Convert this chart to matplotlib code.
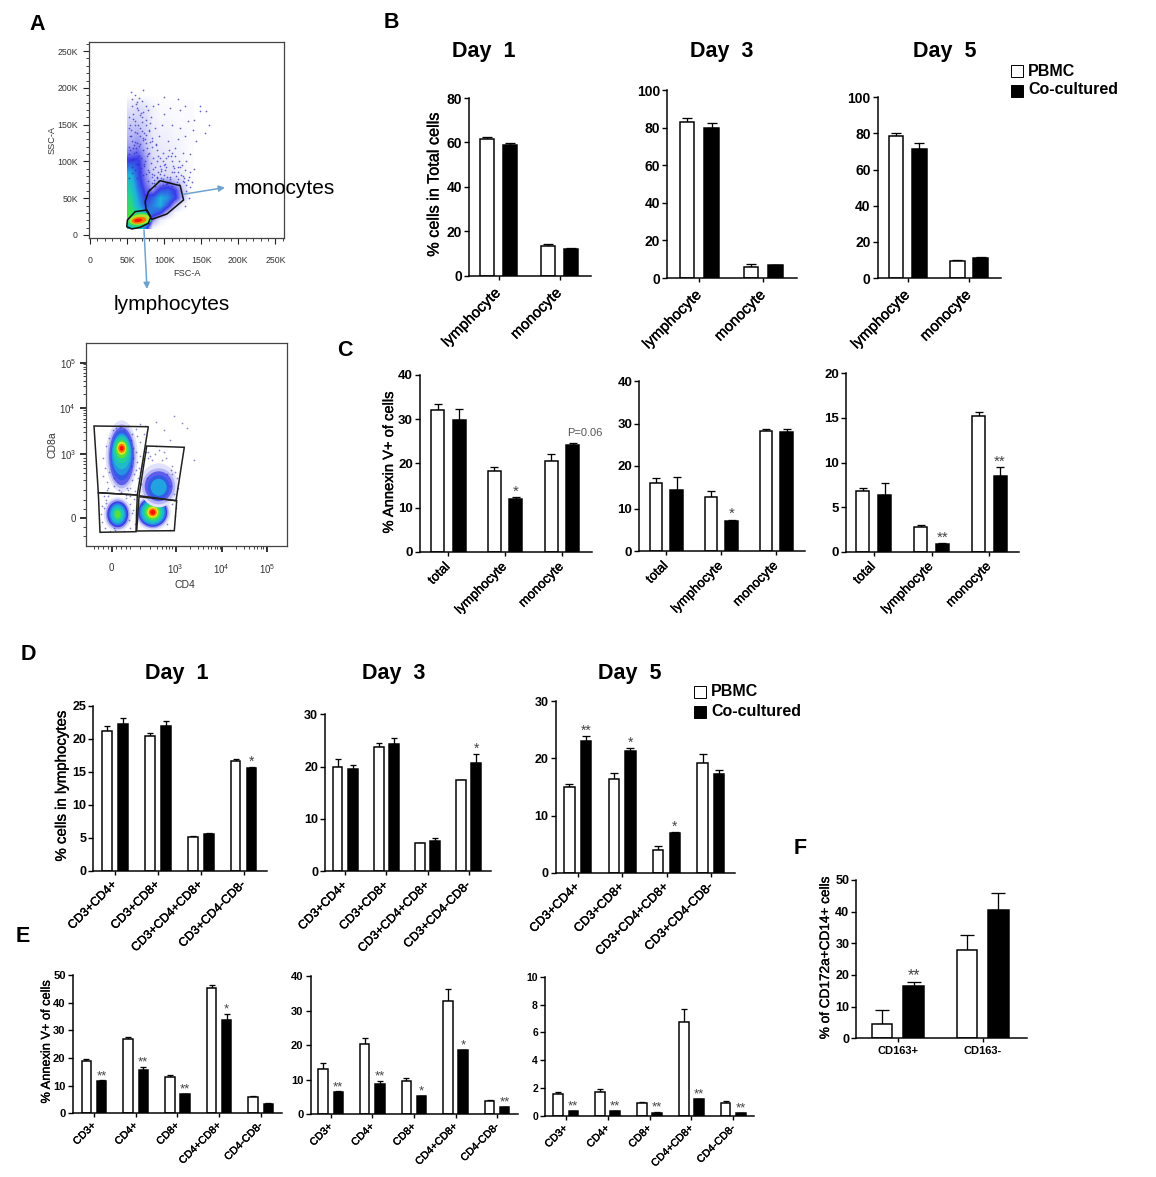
import numpy as np
import matplotlib
matplotlib.use('Agg')
import matplotlib.pyplot as plt
import matplotlib.patheffects as pe
from matplotlib.colors import LinearSegmentedColormap
from matplotlib.patches import Ellipse, Polygon, Rectangle

# === DATA ===
LYM_MONO = ['lymphocyte', 'monocyte']
TOT_LYM_MONO = ['total', 'lymphocyte', 'monocyte']
CD3_SUBSETS = ['CD3+CD4+', 'CD3+CD8+', 'CD3+CD4+CD8+', 'CD3+CD4-CD8-']
ANNEXIN_SUBSETS = ['CD3+', 'CD4+', 'CD8+', 'CD4+CD8+', 'CD4-CD8-']
CD163 = ['CD163+', 'CD163-']

# panel B
B1_PBMC = [61.5, 13.5]
B1_PBMC_ERR = [1.0, 1.0]
B1_CO = [59.0, 12.3]
B1_CO_ERR = [0.7, 0.4]
B3_PBMC = [83.0, 6.0]
B3_PBMC_ERR = [2.0, 1.5]
B3_CO = [80.0, 7.0]
B3_CO_ERR = [2.7, 0.1]
B5_PBMC = [78.5, 9.5]
B5_PBMC_ERR = [1.5, 0.5]
B5_CO = [71.5, 11.0]
B5_CO_ERR = [3.2, 0.5]

# panel C
C1_PBMC = [32.0, 18.2, 20.5]
C1_PBMC_ERR = [1.5, 0.9, 1.5]
C1_CO = [29.8, 12.0, 24.2]
C1_CO_ERR = [2.4, 0.3, 0.5]
C1_STARS = ['', '*', '']
C3_PBMC = [16.0, 12.7, 28.3]
C3_PBMC_ERR = [1.2, 1.5, 0.5]
C3_CO = [14.3, 7.1, 28.0]
C3_CO_ERR = [3.0, 0.3, 0.8]
C3_STARS = ['', '*', '']
C5_PBMC = [6.8, 2.8, 15.2]
C5_PBMC_ERR = [0.3, 0.2, 0.5]
C5_CO = [6.4, 0.9, 8.5]
C5_CO_ERR = [1.3, 0.1, 1.0]
C5_STARS = ['', '**', '**']

# panel D
D1_PBMC = [21.2, 20.4, 5.1, 16.7]
D1_PBMC_ERR = [0.7, 0.5, 0.2, 0.2]
D1_CO = [22.2, 21.9, 5.6, 15.6]
D1_CO_ERR = [1.0, 0.8, 0.1, 0.1]
D1_STARS = ['', '', '', '*']
D3_PBMC = [20.0, 23.8, 5.4, 17.4]
D3_PBMC_ERR = [1.4, 0.8, 0.1, 0.1]
D3_CO = [19.5, 24.3, 5.8, 20.6]
D3_CO_ERR = [0.9, 1.2, 0.5, 1.8]
D3_STARS = ['', '', '', '*']
D5_PBMC = [15.0, 16.4, 4.0, 19.2]
D5_PBMC_ERR = [0.5, 1.1, 0.6, 1.5]
D5_CO = [23.0, 21.3, 7.0, 17.2]
D5_CO_ERR = [0.9, 0.5, 0.1, 0.8]
D5_STARS = ['**', '*', '*', '']

# panel E
E1_PBMC = [19.0, 27.0, 13.0, 45.3, 6.0]
E1_PBMC_ERR = [0.8, 0.7, 0.7, 1.2, 0.4]
E1_CO = [11.5, 15.7, 7.0, 33.7, 3.5]
E1_CO_ERR = [0.4, 1.1, 0.1, 2.3, 0.2]
E1_STARS = ['**', '**', '**', '*', '']
E3_PBMC = [13.2, 20.2, 9.6, 32.8, 3.9]
E3_PBMC_ERR = [1.5, 2.0, 1.0, 3.4, 0.1]
E3_CO = [6.4, 8.8, 5.2, 18.6, 2.0]
E3_CO_ERR = [0.2, 0.8, 0.1, 0.1, 0.2]
E3_STARS = ['**', '**', '*', '*', '**']
E5_PBMC = [1.6, 1.7, 0.95, 6.75, 0.9]
E5_PBMC_ERR = [0.15, 0.25, 0.05, 0.9, 0.15]
E5_CO = [0.35, 0.35, 0.25, 1.2, 0.2]
E5_CO_ERR = [0.03, 0.03, 0.02, 0.03, 0.02]
E5_STARS = ['**', '**', '**', '**', '**']

# panel F
F_PBMC = [4.5, 28.0]
F_PBMC_ERR = [4.5, 4.5]
F_CO = [16.5, 40.5]
F_CO_ERR = [1.3, 5.5]
F_STARS = ['**', '']

# flow plot 1, FSC-A / SSC-A in thousands, density levels 0-9 read by eye
FSC_COLS = [45, 55, 65, 75, 85, 95, 105, 115, 125, 135]
SSC_ROWS = [190, 180, 170, 160, 150, 140, 130, 120, 110, 100, 90, 80, 70, 60, 50, 40, 30, 20, 10]
SCATTER_LEVELS = [
    [0, 0, 0, 0, 0, 0, 0, 0, 0, 0],
    [.3, .3, .4, .3, .1, .05, .05, .05, .05, .05],
    [.5, .5, .6, .5, .25, .1, .1, .05, .1, .1],
    [.7, .7, .7, .6, .25, .15, .15, .1, .05, .1],
    [.9, .9, .9, .7, .3, .2, .2, .15, .1, .1],
    [1, 1, 1.1, .8, .35, .25, .25, .15, .15, .1],
    [1.1, 1.1, 1.3, .9, .4, .3, .25, .2, .15, .05],
    [1.3, 1.3, 1.5, 1, .45, .35, .3, .25, .15, .05],
    [1.7, 1.7, 1.9, 1.2, .55, .4, .35, .25, .2, .05],
    [2.4, 2.4, 2.4, 1.4, .65, .5, .4, .3, .2, .05],
    [3.2, 3.2, 2.5, 1.4, .7, .5, .5, .4, .25, .1],
    [4, 4, 2.6, 1.5, .8, .7, .6, .5, .3, .1],
    [4.4, 4.4, 2.8, 1.7, 1, 1.4, 1.7, 1.2, .6, .05],
    [4.8, 4.8, 3.1, 2, 1.5, 2.6, 2.8, 2.2, 1, .05],
    [5.2, 5.2, 3.5, 2.2, 2.8, 3.8, 3.4, 2.4, 1, 0],
    [5.4, 5.4, 3.8, 2.6, 3.2, 3.8, 2.6, 1, .2, 0],
    [5.8, 5.8, 4.8, 3.4, 3, 2.4, .9, .1, 0, 0],
    [5.8, 6, 6, 5.5, 1.5, .3, .05, 0, 0, 0],
    [4, 4, 5, 3, .2, 0, 0, 0, 0, 0],
]
# hot spot: fsc, ssc, width, height, level
SCATTER_HOT = [(67, 21, 34, 19, 5.5), (67, 21, 28, 14, 6.6), (66, 20, 20, 9, 8), (65, 20, 11, 4.5, 9)]
SCATTER_DOTS_X = [55, 72, 60, 66, 62, 70, 85, 92, 100, 118, 128, 148, 156, 148, 140, 160, 155, 143, 139, 132,
                  122, 108, 100, 97, 110, 122, 128, 118, 105, 93, 87, 82, 78, 75, 70, 65, 58, 54, 60, 68,
                  75, 83, 90, 98, 107, 115, 125, 135, 130, 120, 110, 100, 90, 85, 78, 72, 64, 58, 140, 135,
                  128, 118, 110, 100, 92, 85, 132, 137, 127, 118, 108, 96, 86, 135, 130, 128, 133, 83, 79, 74,
                  57, 63, 69, 76, 81, 53, 56, 61, 67, 73, 79, 84, 89, 95, 103, 112, 52, 59, 66, 71,
                  77, 82, 88, 94, 101, 113, 124, 55, 62, 68, 74, 80, 86, 92, 98, 104, 116, 126, 54, 60,
                  65, 70, 76, 83, 89, 96, 102, 109, 53, 58, 63, 69, 73, 78, 84, 90, 107, 121, 52, 57,
                  56, 64, 71, 58, 67, 75, 53, 61, 70, 79, 55, 63, 72, 81, 59, 66, 74, 54, 62, 69,
                  77, 57, 65, 73, 80, 52, 60, 68, 76, 83, 56, 64, 71, 78, 86, 91, 96, 101, 105, 110,
                  115, 119, 123, 127, 93, 98, 103, 108, 113, 117, 87, 90, 94, 99, 104, 111, 120, 125, 129, 133]
SCATTER_DOTS_Y = [194, 197, 190, 186, 178, 182, 176, 178, 188, 185, 176, 176, 168, 168, 157, 150, 138, 128, 143, 155,
                  170, 172, 165, 150, 150, 146, 135, 130, 128, 135, 145, 160, 170, 150, 160, 170, 165, 150, 140, 135,
                  125, 120, 115, 112, 115, 118, 112, 110, 100, 100, 100, 95, 100, 105, 110, 115, 125, 118, 90, 85,
                  88, 85, 85, 82, 85, 90, 75, 72, 72, 76, 76, 77, 75, 65, 60, 40, 50, 70, 62, 55,
                  185, 172, 166, 176, 152, 160, 128, 155, 146, 138, 142, 132, 122, 104, 92, 94, 120, 112, 108, 132,
                  118, 98, 92, 94, 88, 91, 95, 143, 118, 124, 101, 112, 82, 107, 101, 79, 80, 80, 134, 127,
                  150, 141, 136, 128, 124, 87, 104, 108, 110, 103, 97, 91, 94, 88, 83, 78, 72, 93, 78, 84,
                  176, 181, 167, 158, 163, 156, 146, 149, 153, 143, 135, 139, 129, 127, 122, 121, 131, 116, 113, 105,
                  107, 102, 96, 96, 86, 101, 89, 86, 83, 79, 92, 77, 81, 74, 71, 74, 90, 97, 107, 112,
                  108, 92, 81, 77, 73, 76, 69, 79, 86, 72, 66, 79, 83, 68, 70, 67, 69, 73, 68, 79]
LYM_GATE_FSC = [49.5, 50.4, 60.8, 76.6, 82, 78.8, 67.6, 56.3]
LYM_GATE_SSC = [11.3, 20.4, 31.7, 34, 24.9, 15.9, 10.4, 8.2]
MONO_GATE_FSC = [74.3, 78.8, 94.6, 121.6, 126.1, 103.6, 83.4, 75.7]
MONO_GATE_SSC = [45.3, 58.9, 73.8, 67, 47.6, 28.5, 21.3, 34]

# flow plot 2, CD4 / CD8a on the display scale of the plot, 0 = zero tick
# blob: cd4, cd8, width, height, level
CD_BLOBS = [
    (10, 62, 32, 72, .5), (10, 62, 28, 64, 1.1), (10, 62, 25, 58, 1.9), (10, 63, 22, 50, 2.7), (10, 64, 20, 42, 3.4),
    (10, 66, 18, 34, 4.2), (10, 68, 15, 26, 5), (10, 69, 12, 18, 6), (10, 70, 9, 13, 7), (10, 70, 7, 9, 8), (10, 70, 4, 5, 9),
    (6, 4, 28, 34, .5), (6, 4, 24, 30, 1.3), (6, 4, 21, 26, 2.2), (6, 4, 17, 22, 3.2), (6, 4, 14, 18, 4),
    (6, 4, 10, 13, 5), (6, 4, 6, 8, 6),
    (41, 6, 36, 36, .5), (41, 6, 32, 32, 1.3), (41, 6, 29, 29, 2.2), (41, 6, 26, 26, 3.2), (41, 6, 23, 23, 4),
    (41, 6, 19, 19, 5), (41, 6, 15, 15, 6), (41, 6, 11, 11, 7), (41, 6, 8, 8, 8), (41, 6, 5, 5, 9),
    (47, 33, 38, 44, .5), (47, 32, 33, 36, 1.1), (47, 32, 28, 30, 1.9), (47, 31, 22, 24, 2.7), (47, 31, 16, 17, 3.6),
]
CD_DOTS_X = [-9, -6, -3, 1, 4, 8, 12, 16, 20, 24, 28, 33, 44, 52, 58, 62, 70, 75, 82, -9, -4, 21, 25, 28, 32, 36, 40, 47, 54,
             60, 63, 58, 52, 44, 36, 30, 24, 20, 18, 23, 28, 22, 16, -4, -8, -10, -7, 26, 29, 34, 66, 64, 60, 55,
             18, 14, 3, -2, -6, 20, 23, 18, 14, 9, 2, 58, 63, 64, 60, 28, 30, 21, 17, -11, -6, 2, 12, 18,
             -7, -5, 27, 25, 22, 19, 2, -3, 7, 15, 33, 38, 43, 50, 55, 31, 35, 65, 62, 59, 24, 21, 19, -8, -10, -5]
CD_DOTS_Y = [60, 72, 80, 88, 90, 91, 88, 92, 84, 89, 94, 92, 96, 88, 78, 102, 95, 90, 58, 42, 30, 70, 56, 76, 84, 66, 58, 68, 60,
             52, 46, 32, 66, 72, 60, 52, 48, 38, 30, 27, 62, 19, 28, 22, 10, -4, -10, 40, 34, 66, 30, 20, 14, -6,
             14, 23, -12, -13, 18, 5, -6, -10, 20, 26, 40, -12, 2, 10, 44, 46, 14, 8, -2, 4, 15, -10, -13, 22,
             50, 36, 50, 82, 44, 52, 32, 46, 28, 30, 70, 62, 64, 58, 44, 58, 40, 40, 24, 48, 66, 60, 78, 22, 12, 28]
TL_GATE = [(-17.7, 92.3), (36.6, 91.6), (25.6, 23.3), (-13.4, 25.6)]
TR_GATE = [(35, 72.3), (72.6, 71), (64.3, 17.6), (27.3, 22.6)]
BL_GATE = [(-13.4, 25.6), (25.6, 23.3), (24.3, -13.4), (-11.7, -14)]
BR_GATE = [(27.3, 21.6), (65, 17.6), (62.6, -12.4), (25, -12.7)]

# === SETTINGS ===
W, H = 1156, 1177
plt.rcParams['font.family'] = ['Liberation Sans', 'DejaVu Sans']
plt.rcParams['mathtext.fontset'] = 'custom'
plt.rcParams['mathtext.rm'] = 'Liberation Sans'

FLOW_CMAP = LinearSegmentedColormap.from_list('flow', [
    (0, '#ffffff'), (.1, '#c8c8f8'), (.25, '#3a3ae8'), (.42, '#1eb0e0'), (.55, '#20d0a0'),
    (.65, '#40e040'), (.78, '#e8e820'), (.88, '#ff8000'), (1, '#ff1000')])
SEMI = [pe.withStroke(linewidth=0.25, foreground='black')]
PX = 0.72  # points per pixel at dpi 100

fig = plt.figure(figsize=(W / 100, H / 100), dpi=100)


def px_axes(x0, x1, y_bottom, y_top):
    return fig.add_axes([x0 / W, 1 - y_bottom / H, (x1 - x0) / W, (y_bottom - y_top) / H])


def bar_panel(box, first, step, off, bw, labels, pbmc, pbmc_err, co, co_err, yticks,
              yfont, xfont, stars=None, star_size=11, xrot=45):
    x0, x1, y0, y1 = box
    ax = px_axes(x0, x1, y0, y1)
    ax.patch.set_alpha(0)
    pos = np.arange(len(labels))
    ax.set_xlim((x0 - first) / step, (x1 - first) / step)
    ax.set_ylim(0, yticks[-1])
    ax.bar(pos - off / step, pbmc, width=(bw - 1.5) / step, color='white', edgecolor='black', linewidth=1.5 * PX, zorder=2)
    ax.bar(pos + off / step, co, width=(bw - 1.5) / step, color='black', edgecolor='black', linewidth=1.5 * PX, zorder=2)
    for xs, v, e in ((pos - off / step, pbmc, pbmc_err), (pos + off / step, co, co_err)):
        ax.errorbar(xs, v, yerr=[np.zeros(len(v)), e], fmt='none', ecolor='black',
                    elinewidth=1.3 * PX, capsize=bw * 0.3 * PX, capthick=1.3 * PX, zorder=1, clip_on=False)
    for s in ('top', 'right'):
        ax.spines[s].set_visible(False)
    for s in ('left', 'bottom'):
        ax.spines[s].set_linewidth(1.5 * PX)
    ax.set_yticks(yticks)
    ax.set_yticklabels(yticks, fontsize=yfont, fontweight='bold')
    ax.tick_params(axis='y', length=5 * PX, width=1.4 * PX, pad=1.5)
    ax.set_xticks(pos)
    if xrot:
        ax.tick_params(axis='x', length=4 * PX, width=1.4 * PX, pad=0.9 * xfont - 2)
        ax.set_xticklabels(labels, fontsize=xfont, rotation=xrot, ha='right', va='center', rotation_mode='anchor')
        for t in ax.get_xticklabels():
            t.set_path_effects(SEMI)
    else:
        ax.tick_params(axis='x', length=4 * PX, width=1.4 * PX, pad=3)
        ax.set_xticklabels(labels, fontsize=xfont, fontweight='bold')
    if stars:
        for i, s in enumerate(stars):
            if s:
                ax.annotate(s, (pos[i] + off / step, co[i] + co_err[i]), xytext=(0, 1), textcoords='offset points',
                            ha='center', va='baseline', fontsize=star_size, color='#444444')
    return ax


def flow_frame(ax):
    for s in ax.spines.values():
        s.set_linewidth(0.9)
        s.set_color('#444444')


# === PANEL A, FLOW PLOTS ===
ax = px_axes(89, 284.3, 237.7, 42.3)
im = ax.imshow(np.array(SCATTER_LEVELS), cmap=FLOW_CMAP, vmin=0, vmax=9, aspect='auto', interpolation='bilinear',
               extent=(FSC_COLS[0] - 5, FSC_COLS[-1] + 5, SSC_ROWS[-1] - 5, SSC_ROWS[0] + 5), zorder=1)
im.set_clip_path(Rectangle((50, 8), 95, 190, transform=ax.transData))
ax.set_xlim(-1.4, 262)
ax.set_ylim(-3.7, 262)
ax.scatter(SCATTER_DOTS_X, SCATTER_DOTS_Y, s=1.5, c='#3030c0', alpha=0.75, linewidths=0, zorder=2)
for fx, fy, fw, fh, lev in SCATTER_HOT:
    ax.add_patch(Ellipse((fx, fy), fw, fh, angle=8, color=FLOW_CMAP(lev / 9), lw=0, zorder=3))
ax.add_patch(Polygon(np.column_stack([LYM_GATE_FSC, LYM_GATE_SSC]), fill=False, ec='#111111', lw=1.1, zorder=4))
ax.add_patch(Polygon(np.column_stack([MONO_GATE_FSC, MONO_GATE_SSC]), fill=False, ec='#111111', lw=1.1, zorder=4))
ticks = [0, 50, 100, 150, 200, 250]
tick_labels = ['0', '50K', '100K', '150K', '200K', '250K']
ax.set_xticks(ticks)
ax.set_xticklabels(tick_labels, fontsize=6.3, color='#333333')
ax.set_yticks(ticks)
ax.set_yticklabels(tick_labels, fontsize=6.3, color='#333333')
ax.set_xticks(np.arange(0, 261, 10), minor=True)
ax.set_yticks(np.arange(0, 261, 10), minor=True)
ax.tick_params(axis='both', which='major', length=4, width=0.8, color='#222222')
ax.tick_params(axis='both', which='minor', length=2, width=0.6, color='#222222')
ax.tick_params(axis='x', which='major', pad=9)
ax.tick_params(axis='y', which='major', pad=4)
flow_frame(ax)

ax = px_axes(85.7, 287.3, 546, 343.3)
ax.set_xlim(-26, 175.6)
ax.set_ylim(-27.7, 175)
ax.scatter(CD_DOTS_X, CD_DOTS_Y, s=1.5, c='#3030c0', alpha=0.6, linewidths=0, zorder=3)
for fx, fy, fw, fh, lev in CD_BLOBS:
    ax.add_patch(Ellipse((fx, fy), fw, fh, color=FLOW_CMAP(lev / 9), lw=0, zorder=2))
for gate in (TL_GATE, TR_GATE, BL_GATE, BR_GATE):
    ax.add_patch(Polygon(gate, fill=False, ec='#222222', lw=1.1, zorder=4))
decade_ticks = [0, 64, 110, 155.6]
decade_labels = ['0', r'$\mathregular{10^{3}}$', r'$\mathregular{10^{4}}$', r'$\mathregular{10^{5}}$']
minor_log = [a + 46 * np.log10(k) for a in (64, 110) for k in range(2, 10)]
ax.set_xticks(decade_ticks)
ax.set_xticklabels(decade_labels, fontsize=7, color='#333333')
ax.set_yticks(decade_ticks)
ax.set_yticklabels(decade_labels, fontsize=7, color='#333333')
ax.set_xticks([-18, -14, -9, -4, 4, 9, 14, 18, 28, 38, 45, 50, 54, 57, 60] + minor_log, minor=True)
ax.set_yticks([-18, -9, 9, 18, 28, 38, 45, 50, 54, 57, 60] + minor_log, minor=True)
ax.tick_params(axis='both', which='major', length=4, width=1.2, color='#111111')
ax.tick_params(axis='both', which='minor', length=2.5, width=0.6, color='#222222')
ax.tick_params(axis='x', which='major', pad=8)
ax.tick_params(axis='y', which='major', pad=3)
flow_frame(ax)

# === PANEL B ===
bar_panel((469, 591, 276, 98), 498.5, 61, 11.7, 16, LYM_MONO, B1_PBMC, B1_PBMC_ERR, B1_CO, B1_CO_ERR,
          [0, 20, 40, 60, 80], 10, 10.8)
bar_panel((667.3, 796.7, 278, 90), 699.3, 64, 12.2, 16, LYM_MONO, B3_PBMC, B3_PBMC_ERR, B3_CO, B3_CO_ERR,
          [0, 20, 40, 60, 80, 100], 10, 10.8)
bar_panel((877.7, 1001, 278, 97.3), 907.7, 61.3, 11.7, 16, LYM_MONO, B5_PBMC, B5_PBMC_ERR, B5_CO, B5_CO_ERR,
          [0, 20, 40, 60, 80, 100], 10, 10.8)

# === PANEL C ===
bar_panel((420, 591.7, 552, 374.7), 448.3, 56.8, 10.8, 14.5, TOT_LYM_MONO, C1_PBMC, C1_PBMC_ERR, C1_CO, C1_CO_ERR,
          [0, 10, 20, 30, 40], 9.5, 9.5, C1_STARS)
bar_panel((639.3, 805, 551, 381), 666.3, 55, 10.2, 14, TOT_LYM_MONO, C3_PBMC, C3_PBMC_ERR, C3_CO, C3_CO_ERR,
          [0, 10, 20, 30, 40], 9.5, 9.5, C3_STARS)
bar_panel((846, 1019.3, 551.7, 373.3), 873.7, 57.8, 10.8, 14.5, TOT_LYM_MONO, C5_PBMC, C5_PBMC_ERR, C5_CO, C5_CO_ERR,
          [0, 5, 10, 15, 20], 9.5, 9.5, C5_STARS)

# === PANEL D ===
bar_panel((93.3, 266.7, 870.7, 706), 115, 42.9, 8, 11, CD3_SUBSETS, D1_PBMC, D1_PBMC_ERR, D1_CO, D1_CO_ERR,
          [0, 5, 10, 15, 20, 25], 9, 8.8, D1_STARS, 10)
bar_panel((325.3, 490.7, 871.3, 714.3), 345.3, 41.1, 7.6, 11, CD3_SUBSETS, D3_PBMC, D3_PBMC_ERR, D3_CO, D3_CO_ERR,
          [0, 10, 20, 30], 9, 8.8, D3_STARS, 10)
bar_panel((555.7, 735, 872.7, 701.3), 577.7, 44.4, 8.3, 12, CD3_SUBSETS, D5_PBMC, D5_PBMC_ERR, D5_CO, D5_CO_ERR,
          [0, 10, 20, 30], 9, 9, D5_STARS, 10)

# === PANEL E ===
bar_panel((72.7, 281.7, 1113.3, 975), 94, 41.7, 7.6, 11, ANNEXIN_SUBSETS, E1_PBMC, E1_PBMC_ERR, E1_CO, E1_CO_ERR,
          [0, 10, 20, 30, 40, 50], 8, 7.6, E1_STARS, 9.5)
bar_panel((310.7, 518, 1114.3, 976), 330.7, 41.6, 7.6, 11, ANNEXIN_SUBSETS, E3_PBMC, E3_PBMC_ERR, E3_CO, E3_CO_ERR,
          [0, 10, 20, 30, 40], 8, 7.6, E3_STARS, 9.5)
bar_panel((545, 754, 1116, 976.7), 565.7, 41.9, 7.6, 11, ANNEXIN_SUBSETS, E5_PBMC, E5_PBMC_ERR, E5_CO, E5_CO_ERR,
          [0, 2, 4, 6, 8, 10], 7.5, 7.6, E5_STARS, 9.5)

# === PANEL F ===
bar_panel((856.4, 1026.6, 1038.3, 880), 897.9, 84.8, 15.7, 21.8, CD163, F_PBMC, F_PBMC_ERR, F_CO, F_CO_ERR,
          [0, 10, 20, 30, 40, 50], 9, 8, F_STARS, 11.5, xrot=0)

# === TEXT AND LEGENDS, in figure pixels ===
ov = fig.add_axes([0, 0, 1, 1], zorder=10)
ov.set_xlim(0, W)
ov.set_ylim(H, 0)
ov.axis('off')
ov.patch.set_alpha(0)

for letter, x, y in [('A', 37, 24), ('B', 391, 23), ('C', 345, 351), ('D', 28, 655), ('E', 23, 937), ('F', 800, 848)]:
    ov.text(x, y, letter, fontsize=15.5, fontweight='bold', ha='center', va='center')
for title, x, y in [('Day  1', 483.5, 51), ('Day  3', 721.5, 51), ('Day  5', 944.5, 51),
                    ('Day  1', 176.5, 673), ('Day  3', 393.5, 673), ('Day  5', 629.5, 673)]:
    ov.text(x, y, title, fontsize=15.5, fontweight='bold', ha='center', va='center')
for label, x, y, size in [('% cells in Total cells', 434, 184, 11.7), ('% Annexin V+ of cells', 389, 462, 10.6),
                          ('% cells in lymphocytes', 61.7, 786, 10.8), ('% Annexin V+ of cells', 46.7, 1042, 9.2),
                          ('% of CD172a+CD14+ cells', 825, 958, 9.8)]:
    ov.text(x, y, label, fontsize=size, rotation=90, ha='center', va='center', path_effects=SEMI)
ov.text(567.5, 433, 'P=0.06', fontsize=8, color='#555555', va='center')

for x, y_top in [(1011, 65), (694, 686)]:
    ov.add_patch(Rectangle((x, y_top), 12, 12, fc='white', ec='black', lw=0.7))
    ov.add_patch(Rectangle((x, y_top + 20), 12, 12, fc='black', ec='black', lw=0.7))
    ov.text(x + 17, y_top + 6, 'PBMC', fontsize=11.5, fontweight='bold', va='center')
    ov.text(x + 17, y_top + 25, 'Co-cultured', fontsize=11.5, fontweight='bold', va='center')

ov.text(234, 188, 'monocytes', fontsize=15, va='center')
ov.text(114, 304, 'lymphocytes', fontsize=15, va='center')
ov.text(186.7, 274, 'FSC-A', fontsize=6.6, color='#333333', ha='center', va='center')
ov.text(52, 140, 'SSC-A', fontsize=6.6, color='#333333', rotation=90, ha='center', va='center')
ov.text(185, 585, 'CD4', fontsize=7.5, color='#333333', ha='center', va='center')
ov.text(52.7, 445, 'CD8a', fontsize=7.5, color='#333333', rotation=90, ha='center', va='center')
for start, end in [((183.3, 194.3), (225, 187.5)), ((144, 230), (147, 289))]:
    ov.annotate('', xy=end, xytext=start,
                arrowprops=dict(arrowstyle='-|>', color='#6fa3cf', lw=1.1, mutation_scale=9, shrinkA=0, shrinkB=0))

# Save the plot
fig.savefig('out.png', dpi=100, facecolor='white')
